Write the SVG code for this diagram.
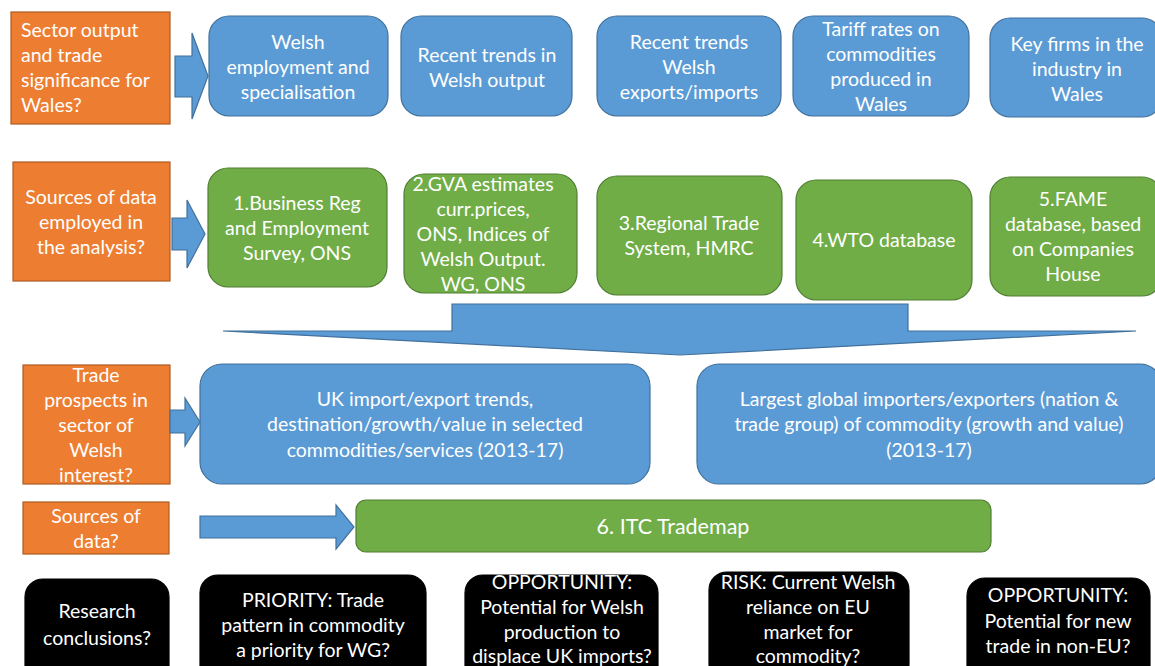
<svg xmlns="http://www.w3.org/2000/svg" width="1155" height="666" viewBox="0 0 1155 666">
  <style>
    text { font-family: Lato, "Open Sans", sans-serif; font-size: 19.5px; fill: #ffffff; text-anchor: middle; }
    .q { fill: #ED7D31; stroke: #AE5A21; stroke-width: 1.2; }
    .b { fill: #5B9BD5; stroke: #41719C; stroke-width: 1.2; }
    .g { fill: #70AD47; stroke: #507E32; stroke-width: 1.2; }
    .k { fill: #000000; stroke: #000000; stroke-width: 1.2; }
    .arr { fill: #5B9BD5; stroke: #41719C; stroke-width: 1.2; }
    .left { text-anchor: start; }
    .big { font-size: 21.5px; }
  </style>

  <!-- Row 1: sector output and trade significance -->
  <g id="q1">
    <rect class="q" x="11" y="12" width="159" height="112"/>
    <text class="left" x="21" y="37">Sector output</text>
    <text class="left" x="21" y="62">and trade</text>
    <text class="left" x="21" y="87">significance for</text>
    <text class="left" x="21" y="112">Wales?</text>
  </g>
  <g id="n-employment">
    <rect class="b" x="209" y="16" width="179" height="100" rx="20"/>
    <text x="298" y="49">Welsh</text>
    <text x="298" y="74">employment and</text>
    <text x="298" y="99">specialisation</text>
  </g>
  <g id="n-output">
    <rect class="b" x="401" y="16" width="171" height="100" rx="20"/>
    <text x="487" y="62">Recent trends in</text>
    <text x="487" y="87">Welsh output</text>
  </g>
  <g id="n-exports">
    <rect class="b" x="597" y="16" width="184" height="100" rx="20"/>
    <text x="689" y="49">Recent trends</text>
    <text x="689" y="74">Welsh</text>
    <text x="689" y="99">exports/imports</text>
  </g>
  <g id="n-tariff">
    <rect class="b" x="793" y="16" width="176" height="100" rx="20"/>
    <text x="881" y="36">Tariff rates on</text>
    <text x="881" y="61">commodities</text>
    <text x="881" y="86">produced in</text>
    <text x="881" y="111">Wales</text>
  </g>
  <g id="n-firms">
    <rect class="b" x="990" y="18" width="172" height="99" rx="20"/>
    <text x="1077" y="51">Key firms in the</text>
    <text x="1077" y="76">industry in</text>
    <text x="1077" y="101">Wales</text>
  </g>

  <!-- Row 2: data sources -->
  <g id="q2">
    <rect class="q" x="13" y="162" width="157" height="119"/>
    <text x="91" y="204">Sources of data</text>
    <text x="91" y="229">employed in</text>
    <text x="91" y="254">the analysis?</text>
  </g>
  <g id="s1">
    <rect class="g" x="208" y="168" width="179" height="119" rx="20"/>
    <text x="297" y="210">1.Business Reg</text>
    <text x="297" y="235">and Employment</text>
    <text x="297" y="260">Survey, ONS</text>
  </g>
  <g id="s2">
    <rect class="g" x="404" y="174" width="173" height="119" rx="20"/>
    <text x="483" y="191">2.GVA estimates</text>
    <text x="483" y="216">curr.prices,</text>
    <text x="483" y="241">ONS, Indices of</text>
    <text x="483" y="266">Welsh Output.</text>
    <text x="483" y="291">WG, ONS</text>
  </g>
  <g id="s3">
    <rect class="g" x="597" y="176" width="185" height="119" rx="20"/>
    <text x="689" y="230">3.Regional Trade</text>
    <text x="689" y="255">System, HMRC</text>
  </g>
  <g id="s4">
    <rect class="g" x="796" y="180" width="176" height="120" rx="20"/>
    <text x="884" y="247">4.WTO database</text>
  </g>
  <g id="s5">
    <rect class="g" x="990" y="177" width="172" height="119" rx="20"/>
    <text x="1073" y="206">5.FAME</text>
    <text x="1073" y="231">database, based</text>
    <text x="1073" y="256">on Companies</text>
    <text x="1073" y="281">House</text>
  </g>

  <!-- Row 3: trade prospects -->
  <g id="q3">
    <rect class="q" x="23" y="365" width="147" height="119"/>
    <text x="96" y="382">Trade</text>
    <text x="96" y="407">prospects in</text>
    <text x="96" y="432">sector of</text>
    <text x="96" y="457">Welsh</text>
    <text x="96" y="482">interest?</text>
  </g>
  <g id="n-uk-trends">
    <rect class="b" x="200" y="364" width="450" height="120" rx="22"/>
    <text x="425" y="406">UK import/export trends,</text>
    <text x="425" y="431">destination/growth/value in selected</text>
    <text x="425" y="457">commodities/services (2013-17)</text>
  </g>
  <g id="n-global">
    <rect class="b" x="697" y="364" width="465" height="120" rx="22"/>
    <text x="929" y="406">Largest global importers/exporters (nation &amp;</text>
    <text x="929" y="431">trade group) of commodity (growth and value)</text>
    <text x="929" y="457">(2013-17)</text>
  </g>

  <!-- Row 4: data source for trade prospects -->
  <g id="q4">
    <rect class="q" x="23" y="502" width="146" height="52"/>
    <text x="96" y="523">Sources of</text>
    <text x="96" y="548">data?</text>
  </g>
  <g id="s6">
    <rect class="g" x="356" y="500" width="635" height="52" rx="10"/>
    <text class="big" x="673" y="534">6. ITC Trademap</text>
  </g>

  <!-- Row 5: research conclusions -->
  <g id="c0">
    <rect class="k" x="25" y="579" width="144" height="110" rx="18"/>
    <text x="97" y="618">Research</text>
    <text x="97" y="645">conclusions?</text>
  </g>
  <g id="c1">
    <rect class="k" x="200" y="575" width="226" height="110" rx="18"/>
    <text x="313" y="607">PRIORITY: Trade</text>
    <text x="313" y="632">pattern in commodity</text>
    <text x="313" y="657">a priority for WG?</text>
  </g>
  <g id="c2">
    <rect class="k" x="465" y="575" width="193" height="110" rx="18"/>
    <text x="562" y="589">OPPORTUNITY:</text>
    <text x="562" y="614">Potential for Welsh</text>
    <text x="562" y="639">production to</text>
    <text x="562" y="663">displace UK imports?</text>
  </g>
  <g id="c3">
    <rect class="k" x="709" y="572" width="200" height="110" rx="18"/>
    <text x="808" y="589">RISK: Current Welsh</text>
    <text x="808" y="614">reliance on EU</text>
    <text x="808" y="639">market for</text>
    <text x="808" y="663">commodity?</text>
  </g>
  <g id="c4">
    <rect class="k" x="967" y="578" width="183" height="110" rx="18"/>
    <text x="1058" y="602">OPPORTUNITY:</text>
    <text x="1058" y="628">Potential for new</text>
    <text x="1058" y="653">trade in non-EU?</text>
  </g>

  <!-- Block arrows -->
  <g id="connectors">
    <polygon class="arr" points="175,56 192,56 192,33 208,76 192,119 192,97 175,97"/>
    <polygon class="arr" points="172,218 187,218 187,200 205,234 187,268 187,250 172,250"/>
    <polygon class="arr" points="170,410 185,410 185,398 200,422 185,446 185,433 170,433"/>
    <polygon class="arr" points="200,516 336,516 336,505 354,527 336,549 336,538 200,538"/>
    <polygon class="arr" points="223,331 452,331 452,304 908,304 908,331 1136,331 680,355"/>
  </g>
</svg>
